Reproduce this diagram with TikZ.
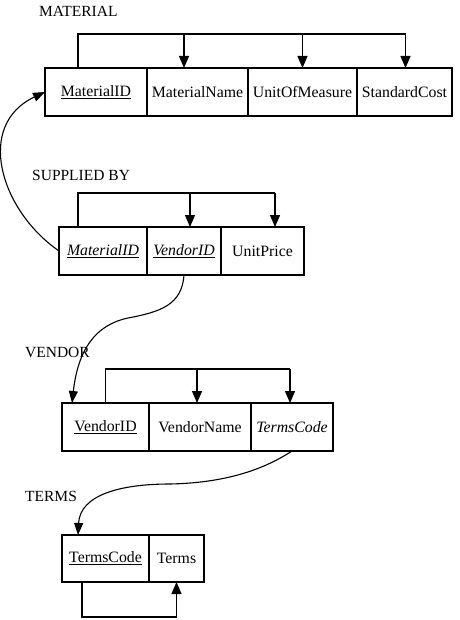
\documentclass[tikz,border=0pt]{standalone}
\usepackage{fontspec}
\setmainfont{Liberation Serif}
\usetikzlibrary{arrows.meta,calc}
\begin{document}
\begin{tikzpicture}[x=1pt,y=-1pt,
  cell/.style={draw,line width=1.3pt,minimum height=48pt,inner sep=0pt,outer sep=0pt,anchor=north west,font=\fontsize{15.8}{18}\selectfont},
  title/.style={anchor=west,inner sep=0pt,font=\fontsize{15.5}{18}\selectfont},
  fd/.style={line width=1.3pt},
  arr/.style={line width=1.3pt,-{Triangle[length=12pt,width=10pt]}},
  curve/.style={line width=1.1pt,-{Triangle[length=12pt,width=9pt]}}]
\useasboundingbox (0,0) rectangle (459,620);

% titles
\node[title] (tmat) at (39,11) {MATERIAL};
\node[title] (tsup) at (32,175) {SUPPLIED BY};
\node[title] (tven) at (25,352) {VENDOR};
\node[title] (tter) at (25,496) {TERMS};

% MATERIAL
\node[cell,minimum width=102pt] (m1) at (45,68) {\underline{MaterialID}};
\node[cell,minimum width=101pt] (m2) at (m1.north east) {MaterialName};
\node[cell,minimum width=109pt] (m3) at (m2.north east) {UnitOfMeasure};
\node[cell,minimum width=95pt] (m4) at (m3.north east) {StandardCost};

% SUPPLIED BY
\node[cell,minimum width=88pt] (s1) at (59,227) {\itshape\underline{MaterialID}};
\node[cell,minimum width=74pt] (s2) at (s1.north east) {\itshape\underline{VendorID}};
\node[cell,minimum width=83pt] (s3) at (s2.north east) {UnitPrice};

% VENDOR
\node[cell,minimum width=87pt] (v1) at (62,403) {\underline{VendorID}};
\node[cell,minimum width=102pt] (v2) at (v1.north east) {VendorName};
\node[cell,minimum width=82pt] (v3) at (v2.north east) {\itshape TermsCode};

% TERMS
\node[cell,minimum width=87pt,minimum height=47pt] (t1) at (62,535) {\underline{TermsCode}};
\node[cell,minimum width=55pt,minimum height=47pt] (t2) at (t1.north east) {Terms};

% MATERIAL dependencies
\coordinate (mtop) at (0,34);
\coordinate (ma) at ([xshift=-18pt]m1.north);
\coordinate (mb) at ([xshift=-13.5pt]m2.north);
\coordinate (mc) at (m3.north);
\coordinate (md) at ([xshift=1pt]m4.north);
\draw[fd] (ma) -- (ma |- mtop) -- (md |- mtop);
\draw[arr] (mb |- mtop) -- (mb);
\draw[arr] (mc |- mtop) -- (mc);
\draw[arr] (md |- mtop) -- (md);

% SUPPLIED BY dependencies
\coordinate (stop) at (0,193);
\coordinate (sa) at ([xshift=-25pt]s1.north);
\coordinate (sb) at ([xshift=6pt]s2.north);
\coordinate (sc) at ([xshift=12.5pt]s3.north);
\draw[fd] (sa) -- (sa |- stop) -- (sc |- stop);
\draw[arr] (sb |- stop) -- (sb);
\draw[arr] (sc |- stop) -- (sc);

% VENDOR dependencies
\coordinate (vtop) at (0,369);
\coordinate (va) at (v1.north);
\coordinate (vb) at ([xshift=-3pt]v2.north);
\coordinate (vc) at ([xshift=-2pt]v3.north);
\draw[fd] (va) -- (va |- vtop) -- (vc |- vtop);
\draw[arr] (vb |- vtop) -- (vb);
\draw[arr] (vc |- vtop) -- (vc);

% TERMS dependency
\coordinate (tbot) at (0,617);
\coordinate (ta) at ([xshift=-23.5pt]t1.south);
\draw[arr] (ta) -- (ta |- tbot) -- (t2.south |- tbot) -- (t2.south);

% foreign key curves
\draw[curve] (s1.west) .. controls (0,210) and (-25,125) .. (m1.west);
\coordinate (vtip) at ([xshift=-33.5pt]v1.north);
\draw[curve] (s2.south) .. controls (182,305) and (160,312) .. (128,318)
  .. controls (95,325) and (78,350) .. (vtip);
\coordinate (ttip) at ([xshift=-27.5pt]t1.north);
\draw[curve] (v3.south) .. controls (260,472) and (220,483) .. (170,484)
  .. controls (120,484) and (80,495) .. (ttip);
\end{tikzpicture}
\end{document}
